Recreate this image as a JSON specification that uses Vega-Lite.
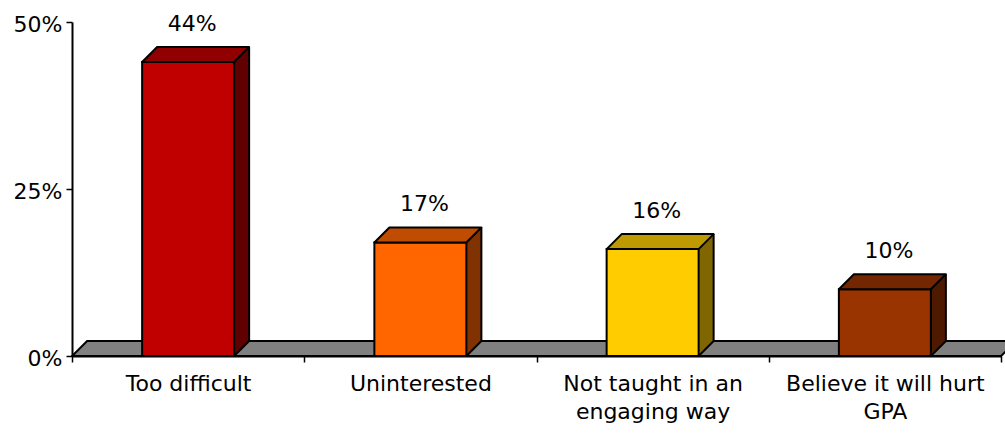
{
  "$schema": "https://vega.github.io/schema/vega-lite/v6.json",
  "width": 929,
  "height": 334,
  "autosize": {"type": "none"},
  "padding": {"left": 72, "top": 22, "right": 4, "bottom": 78},
  "background": "white",
  "config": {
    "font": "DejaVu Sans",
    "view": {"stroke": null},
    "axis": {
      "domainColor": "black",
      "domainWidth": 2,
      "tickColor": "black",
      "tickWidth": 1.5,
      "tickSize": 6,
      "labelColor": "black",
      "labelFont": "DejaVu Sans",
      "labelFontSize": 22,
      "grid": false,
      "title": null
    }
  },
  "data": {
    "values": [
      {"reason": "Too difficult", "value": 0.44},
      {"reason": "Uninterested", "value": 0.17},
      {"reason": "Not taught in an engaging way", "value": 0.16},
      {"reason": "Believe it will hurt GPA", "value": 0.10}
    ]
  },
  "encoding": {
    "x": {
      "field": "reason",
      "type": "nominal",
      "sort": null,
      "scale": {"paddingInner": 0, "paddingOuter": 0},
      "axis": {
        "labelAngle": 0,
        "tickBand": "extent",
        "labelPadding": 11,
        "labelLineHeight": 28,
        "labelOverlap": false,
        "labelBound": false,
        "labelLimit": 0,
        "labelExpr": "datum.label == 'Not taught in an engaging way' ? ['Not taught in an', 'engaging way'] : datum.label == 'Believe it will hurt GPA' ? ['Believe it will hurt', 'GPA'] : datum.label"
      }
    },
    "y": {
      "field": "value",
      "type": "quantitative",
      "scale": {"domain": [0, 0.5], "nice": false},
      "axis": {"values": [0, 0.25, 0.5], "format": ".0%", "labelPadding": 4, "labelOffset": 2}
    }
  },
  "layer": [
    {
      "transform": [{"filter": "datum.reason == 'Too difficult'"}],
      "mark": {"type": "point", "shape": "M-116,0 L813,0 L828,-15 L-101,-15 Z", "size": 4, "filled": true, "fill": "#808080", "stroke": "black", "strokeWidth": 2, "opacity": 1},
      "encoding": {"y": {"datum": 0}}
    },
    {
      "mark": {"type": "bar", "width": 15, "xOffset": 53.5, "yOffset": -15, "y2Offset": -15, "strokeWidth": 0},
      "encoding": {
        "y2": {"datum": 0},
        "fill": {"field": "reason", "type": "nominal", "sort": null, "legend": null,
          "scale": {"domain": ["Too difficult", "Uninterested", "Not taught in an engaging way", "Believe it will hurt GPA"], "range": ["#600000", "#803300", "#806600", "#4D1A00"]}}
      }
    },
    {
      "mark": {"type": "point", "shape": "M46,0 L46,-15 L61,-15 Z", "size": 4, "filled": true, "strokeWidth": 0, "opacity": 1},
      "encoding": {
        "y": {"datum": 0},
        "fill": {"field": "reason", "type": "nominal", "sort": null, "legend": null,
          "scale": {"domain": ["Too difficult", "Uninterested", "Not taught in an engaging way", "Believe it will hurt GPA"], "range": ["#600000", "#803300", "#806600", "#4D1A00"]}}
      }
    },
    {
      "mark": {"type": "point", "shape": "M46,0 L61,-15", "size": 4, "filled": false, "fill": null, "stroke": "black", "strokeWidth": 2, "opacity": 1},
      "encoding": {"y": {"datum": 0}}
    },
    {
      "mark": {"type": "rule", "xOffset": 61, "yOffset": -15, "y2Offset": -15, "stroke": "black", "strokeWidth": 2},
      "encoding": {"y2": {"datum": 0}}
    },
    {
      "mark": {"type": "bar", "width": 92, "stroke": "black", "strokeWidth": 2},
      "encoding": {
        "y2": {"datum": 0},
        "fill": {"field": "reason", "type": "nominal", "sort": null, "legend": null,
          "scale": {"domain": ["Too difficult", "Uninterested", "Not taught in an engaging way", "Believe it will hurt GPA"], "range": ["#C00000", "#FF6600", "#FFCC00", "#993300"]}}
      }
    },
    {
      "mark": {"type": "point", "shape": "M-46,0 L46,0 L61,-15 L-31,-15 Z", "size": 4, "filled": true, "stroke": "black", "strokeWidth": 2, "strokeJoin": "round", "opacity": 1},
      "encoding": {
        "fill": {"field": "reason", "type": "nominal", "sort": null, "legend": null,
          "scale": {"domain": ["Too difficult", "Uninterested", "Not taught in an engaging way", "Believe it will hurt GPA"], "range": ["#900000", "#BF4C00", "#BF9900", "#732600"]}}
      }
    },
    {
      "mark": {"type": "text", "dx": 4, "dy": -31, "baseline": "alphabetic", "fontSize": 22, "font": "DejaVu Sans", "color": "black"},
      "encoding": {"text": {"field": "value", "type": "quantitative", "format": ".0%"}}
    }
  ],
  "resolve": {"scale": {"fill": "independent"}}
}
